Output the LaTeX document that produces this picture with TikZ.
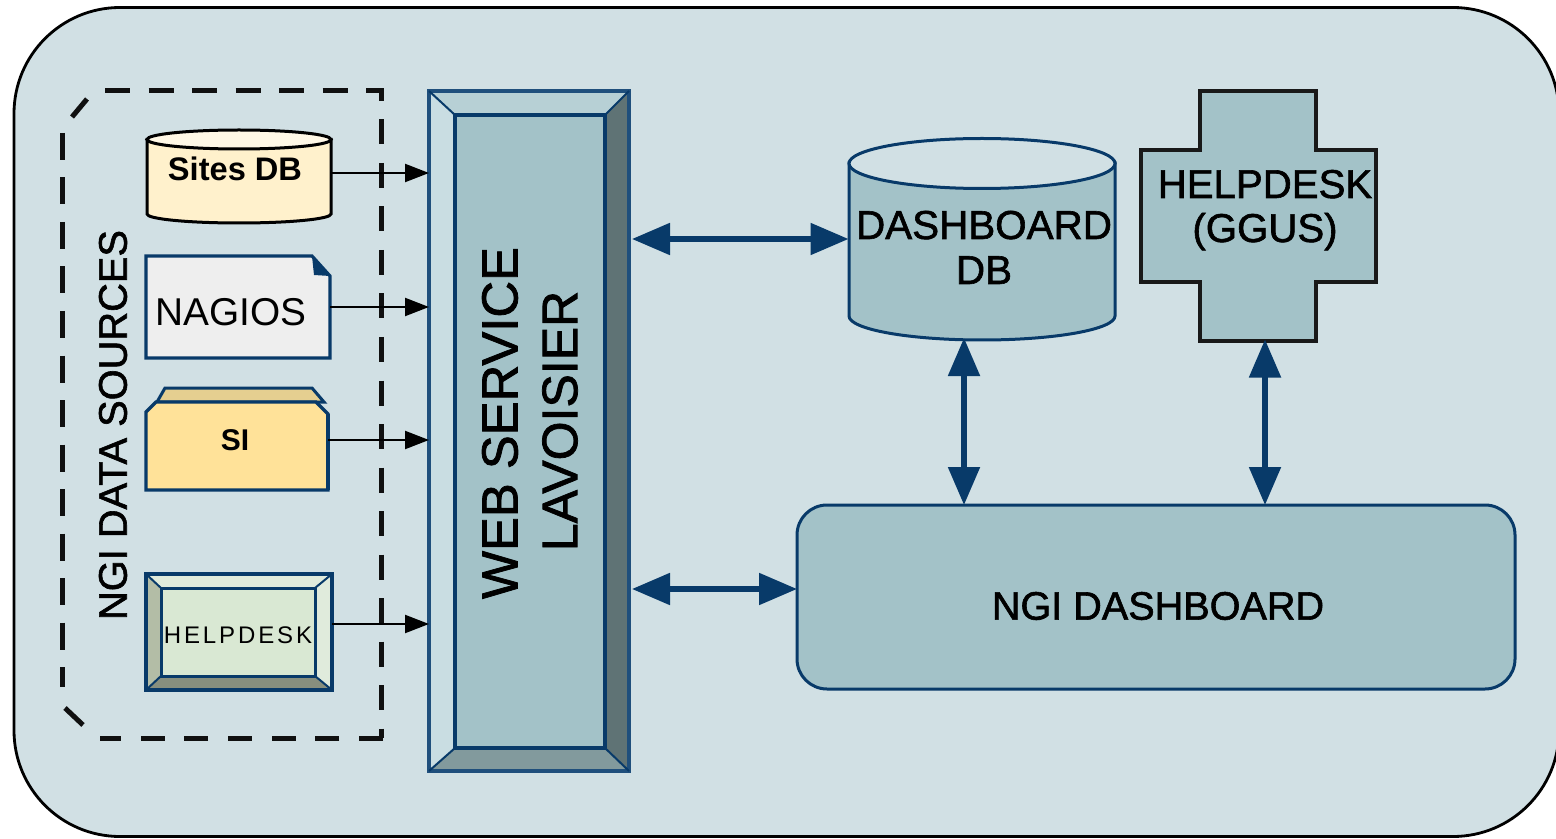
\documentclass[tikz,border=0pt]{standalone}
\usepackage{fontspec}
\setmainfont{Liberation Sans}
\usetikzlibrary{arrows.meta}
\definecolor{bgpanel}{HTML}{D1E0E4}
\definecolor{midfill}{HTML}{A3C2C8}
\definecolor{navy}{HTML}{083A69}
\definecolor{softnavy}{HTML}{1F4F7C}
\definecolor{dashdark}{HTML}{101010}
\definecolor{siteBody}{HTML}{FFF1CC}
\definecolor{siteTop}{HTML}{FFF8E6}
\definecolor{paper}{HTML}{EEEEEE}
\definecolor{folderBack}{HTML}{E5CF90}
\definecolor{folderFront}{HTML}{FFE299}
\definecolor{hdLeft}{HTML}{B3BDA6}
\definecolor{hdLight}{HTML}{E0EBDC}
\definecolor{hdBottom}{HTML}{878F7E}
\definecolor{hdFace}{HTML}{D9E8D3}
\definecolor{wsLeft}{HTML}{C9DDE2}
\definecolor{wsTop}{HTML}{B7D0D5}
\definecolor{wsRight}{HTML}{5F7375}
\definecolor{wsBottom}{HTML}{829A9D}
\tikzset{
  slot/.style={inner sep=0pt,outer sep=0pt,minimum width=#1},
  lab/.style={inner sep=0pt,outer sep=0pt,align=center,text=black},
  baselab/.style={inner sep=0pt,outer sep=0pt,anchor=base,text=black},
  navyline/.style={draw=navy,line width=1.5pt,line join=miter},
  thinnavy/.style={draw=navy,line width=1pt},
  feed/.style={draw=black,line width=1.1pt,-{Triangle[length=12pt,width=9pt]}},
  link/.style={draw=navy,line width=2.6pt,{Triangle[length=19pt,width=15.5pt]}-{Triangle[length=19pt,width=15.5pt]}},
  darkline/.style={draw=black!90,line width=1.7pt,line join=miter},
  dashline/.style={draw=dashdark,line width=2.5pt},
}
\newcommand{\fsz}[1]{\fontsize{#1}{22}\selectfont}
\newcommand{\hvy}[1]{\fontsize{#1}{22}\selectfont\addfontfeature{FakeBold=1.5}}
\begin{document}
\begin{tikzpicture}[x=0.5pt,y=-0.5pt]
\clip (0,0) rectangle (1556,839);
\fill[white] (0,0) rectangle (1556,839);
% panel
\draw[fill=bgpanel,draw=black,line width=1.4pt,rounded corners=53pt] (14,7.5) rectangle (1559,836.5);
% dashed group
\draw[dashline,dash pattern=on 12.5pt off 9.25pt] (105,91) -- (381,91) -- (381,738);
\draw[dashline,dash pattern=on 12pt off 9.85pt] (383,738) -- (100,738);
\draw[dashline,dash pattern=on 13.5pt off 8.75pt] (62,133) -- (62,687);
\draw[dashline] (72,117) -- (87,99);
\draw[dashline] (65,708) -- (83,725);
\node[lab,rotate=90] (groupLabel) at (113,425) {\hvy{19.9}NGI DATA SOURCES};
% Sites DB
\draw[fill=siteBody,draw=black,line width=1.5pt] (147,139.5) -- (147,214) arc[start angle=180,end angle=0,x radius=92,y radius=9] -- (331,139.5) -- cycle;
\draw[fill=siteTop,draw=black,line width=1.5pt] (239,139.5) ellipse [x radius=92,y radius=9.5];
\node[slot=92pt,minimum height=46.5pt] (sites) at (239,176.5) {};
\node[lab] (sitesLabel) at (235,169) {\fsz{16.3}\bfseries Sites DB};
% Nagios
\draw[fill=paper,navyline,line width=1.6pt] (146,256) -- (312,256) -- (330,276) -- (330,358) -- (146,358) -- cycle;
\fill[navy] (312,256) -- (330,276) -- (314,275) -- cycle;
\node[slot=92pt,minimum height=51.5pt] (nagios) at (238,306.5) {};
\node[lab] (nagiosLabel) at (231,312) {\fsz{19.4}NAGIOS};
% SI folder
\draw[fill=folderBack,navyline] (157,402) -- (165,388) -- (312,388) -- (324,402) -- cycle;
\draw[fill=folderFront,navyline,line width=1.7pt] (146,490) -- (146,412) -- (156,402) -- (316,402) -- (328,414) -- (328,490) -- cycle;
\draw[navyline,line width=2.4pt] (328,414) -- (328,490);
\node[slot=91pt,minimum height=44pt] (si) at (237,446) {};
\node[lab] (siLabel) at (235,440) {\fsz{15}\bfseries SI};
% Helpdesk source
\fill[hdLeft] (146,574) -- (161,588) -- (161,676) -- (146,690) -- cycle;
\fill[hdLight] (146,574) -- (332,574) -- (315,588) -- (161,588) -- cycle;
\fill[hdLight] (332,574) -- (332,690) -- (315,676) -- (315,588) -- cycle;
\fill[hdBottom] (146,690) -- (332,690) -- (315,676) -- (161,676) -- cycle;
\draw[thinnavy,line width=1.6pt] (146,574) rectangle (332,690);
\draw[fill=hdFace,thinnavy,line width=1.5pt] (161,588) rectangle (315,676);
\draw[thinnavy] (146,574) -- (161,588) (332,574) -- (315,588) (146,690) -- (161,676) (332,690) -- (315,676);
\node[slot=93pt,minimum height=58pt] (hdsrc) at (239,632) {};
\node[lab] (hdsrcLabel) at (238,635) {\fsz{12}\addfontfeature{LetterSpace=12}HELPDESK};
% Web service bevel box
\fill[wsLeft] (429,91) -- (455,115) -- (455,748) -- (429,771) -- cycle;
\fill[wsTop] (429,91) -- (629,91) -- (605,115) -- (455,115) -- cycle;
\fill[wsRight] (629,91) -- (629,771) -- (605,748) -- (605,115) -- cycle;
\fill[wsBottom] (429,771) -- (629,771) -- (605,748) -- (455,748) -- cycle;
\draw[navyline,draw=softnavy,line width=2pt] (429,91) rectangle (629,771);
\draw[fill=midfill,draw=navy,line width=1.6pt] (455,115) rectangle (605,748);
\draw[thinnavy] (429,91) -- (455,115) (629,91) -- (605,115) (429,771) -- (455,748) (629,771) -- (605,748);
\node[slot=101.5pt,minimum height=341pt] (ws) at (530.5,431) {};
\node[lab,rotate=90] (wsLabelA) at (500,423) {\hvy{25.4}WEB SERVICE};
\node[lab,rotate=90] (wsLabelB) at (560,421) {\hvy{25}LAVOISIER};
% Dashboard DB
\draw[fill=midfill,navyline] (849,163) -- (849,316) arc[start angle=180,end angle=0,x radius=133,y radius=24] -- (1115,163) -- cycle;
\draw[fill=bgpanel,navyline] (982,163.5) ellipse [x radius=133,y radius=25];
\node[slot=133.5pt,minimum height=101pt] (db) at (982,239) {};
\node[baselab] (dbLabelA) at (984,239) {\hvy{20.2}DASHBOARD};
\node[baselab] (dbLabelB) at (984,284) {\hvy{20.2}DB};
% Cross
\draw[fill=midfill,darkline] (1200,91) -- (1316,91) -- (1316,150) -- (1376,150) -- (1376,282) -- (1316,282) -- (1316,341) -- (1200,341) -- (1200,282) -- (1141,282) -- (1141,150) -- (1200,150) -- cycle;
\node[slot=118pt,minimum height=125.5pt] (ggus) at (1259,216) {};
\node[baselab] (ggusLabelA) at (1265,198) {\hvy{20.1}HELPDESK};
\node[baselab] (ggusLabelB) at (1265,242) {\hvy{20.1}(GGUS)};
% NGI dashboard
\draw[fill=midfill,navyline,rounded corners=15pt] (797,505) rectangle (1515,689);
\node[slot=359pt,minimum height=92pt] (ngi) at (1156,597) {};
\node[lab] (ngiLabel) at (1158,606) {\hvy{19.8}NGI DASHBOARD};
% feeds
\coordinate (sitesOut) at ([yshift=1.75pt]sites.east);
\coordinate (nagiosOut) at ([yshift=-0.25pt]nagios.east);
\coordinate (siOut) at ([yshift=3pt]si.east);
\coordinate (hdOut) at ([yshift=4pt]hdsrc.east);
\draw[feed] (sitesOut) -- (sitesOut -| ws.west);
\draw[feed] (nagiosOut) -- (nagiosOut -| ws.west);
\draw[feed] (siOut) -- (siOut -| ws.west);
\draw[feed] (hdOut) -- (hdOut -| ws.west);
% links
\coordinate (ngiIn) at ([yshift=4pt]ngi.west);
\coordinate (dbDown) at ([xshift=-9pt,yshift=1pt]db.south);
\coordinate (ggusDown) at ([xshift=3pt,yshift=1pt]ggus.south);
\draw[link] (db.west -| ws.east) -- (db.west);
\draw[link] (ngiIn -| ws.east) -- (ngiIn);
\draw[link] (dbDown) -- (dbDown |- ngi.north);
\draw[link] (ggusDown) -- (ggusDown |- ngi.north);
\end{tikzpicture}
\end{document}
